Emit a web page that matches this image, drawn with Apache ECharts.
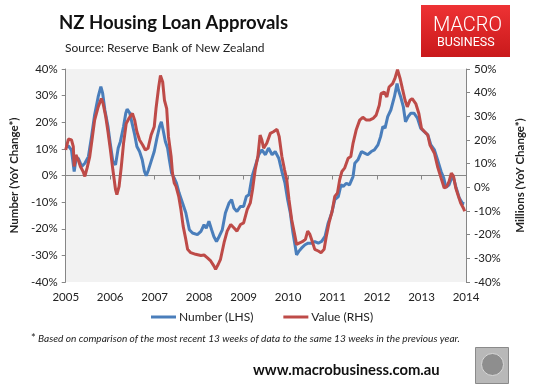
<!DOCTYPE html>
<html>
<head>
<meta charset="utf-8">
<script src="https://cdn.jsdelivr.net/npm/echarts@6/dist/echarts.min.js"></script>
<style>
html,body{margin:0;padding:0;background:#fff;}
#chart{width:540px;height:389px;}
</style>
</head>
<body>
<div id="chart"></div>
<script>
// X axis ticks (years)
var yearTicks = [2005, 2006, 2007, 2008, 2009, 2010, 2011, 2012, 2013, 2014];

// Number of loans, YoY % change (LHS)
var numberYears = [2005.00,2005.06,2005.13,2005.19,2005.23,2005.28,2005.36,2005.43,2005.51,2005.58,2005.65,2005.73,2005.79,2005.83,2005.88,2005.95,2006.00,2006.06,2006.12,2006.18,2006.23,2006.27,2006.30,2006.35,2006.38,2006.44,2006.50,2006.55,2006.60,2006.66,2006.72,2006.77,2006.81,2006.86,2006.92,2006.99,2007.05,2007.11,2007.15,2007.19,2007.24,2007.29,2007.33,2007.38,2007.44,2007.49,2007.55,2007.63,2007.70,2007.78,2007.85,2007.96,2008.04,2008.11,2008.16,2008.22,2008.28,2008.33,2008.39,2008.45,2008.52,2008.59,2008.67,2008.73,2008.78,2008.85,2008.93,2009.00,2009.06,2009.12,2009.19,2009.26,2009.34,2009.41,2009.49,2009.56,2009.64,2009.71,2009.79,2009.86,2009.93,2009.99,2010.05,2010.11,2010.16,2010.19,2010.24,2010.30,2010.38,2010.45,2010.53,2010.60,2010.68,2010.75,2010.83,2010.90,2010.98,2011.05,2011.13,2011.19,2011.24,2011.31,2011.38,2011.46,2011.50,2011.57,2011.65,2011.72,2011.79,2011.87,2011.94,2012.02,2012.08,2012.13,2012.18,2012.24,2012.31,2012.39,2012.45,2012.48,2012.53,2012.59,2012.64,2012.70,2012.76,2012.83,2012.91,2012.98,2013.06,2013.14,2013.21,2013.29,2013.36,2013.44,2013.50,2013.55,2013.62,2013.70,2013.77,2013.85,2013.92,2013.96];
var numberValues = [10.6,11.1,9.5,1.5,5.9,6.5,3.4,4.6,7.1,14.6,22.8,29.6,33.4,30.9,24.6,18.4,12.1,5.3,4.0,10.3,12.8,13.4,18.4,23.4,24.9,23.4,19.0,15.3,10.9,9.0,5.9,1.5,-0.1,2.1,5.3,9.0,14.0,18.4,20.2,17.1,12.8,10.3,5.9,0.9,-1.0,-2.9,-6.6,-10.5,-14.0,-20.4,-21.6,-22.2,-21.0,-18.5,-19.8,-17.2,-20.4,-22.9,-24.8,-22.9,-20.4,-14.1,-10.4,-9.1,-12.2,-13.5,-11.6,-11.6,-7.9,-7.2,-0.4,3.4,7.8,9.6,7.8,10.3,7.8,9.0,6.5,1.5,-2.9,-9.1,-14.1,-21.6,-26.6,-29.8,-28.5,-27.3,-26.0,-25.4,-25.4,-24.8,-25.4,-24.8,-22.9,-17.9,-14.1,-9.1,-7.9,-3.5,-4.1,-2.9,-3.5,-0.4,4.6,5.9,9.0,8.4,7.8,9.0,9.6,11.5,14.6,18.4,17.8,22.1,24.6,29.6,34.5,32.1,29.6,25.9,20.2,22.1,23.4,23.4,21.5,17.8,16.5,15.3,11.5,9.6,5.9,1.5,-1.0,-4.5,-3.5,0.2,-4.1,-8.5,-10.4,-10.6];

// Value of loans, YoY % change (RHS)
var valueYears = [2005.00,2005.06,2005.13,2005.17,2005.19,2005.23,2005.28,2005.33,2005.39,2005.43,2005.48,2005.54,2005.60,2005.65,2005.73,2005.80,2005.84,2005.90,2005.95,2006.00,2006.06,2006.12,2006.15,2006.20,2006.25,2006.30,2006.36,2006.42,2006.50,2006.55,2006.60,2006.66,2006.73,2006.79,2006.85,2006.92,2006.99,2007.03,2007.09,2007.13,2007.18,2007.22,2007.27,2007.31,2007.37,2007.40,2007.44,2007.48,2007.54,2007.59,2007.64,2007.70,2007.74,2007.81,2007.92,2008.04,2008.11,2008.18,2008.26,2008.33,2008.37,2008.43,2008.48,2008.56,2008.63,2008.71,2008.78,2008.85,2008.93,2009.00,2009.08,2009.15,2009.20,2009.26,2009.32,2009.37,2009.41,2009.45,2009.52,2009.60,2009.67,2009.75,2009.80,2009.86,2009.92,2009.97,2010.02,2010.08,2010.14,2010.19,2010.27,2010.34,2010.39,2010.44,2010.49,2010.54,2010.60,2010.68,2010.74,2010.81,2010.86,2010.92,2010.99,2011.05,2011.11,2011.16,2011.21,2011.27,2011.35,2011.41,2011.46,2011.53,2011.61,2011.68,2011.76,2011.83,2011.91,2011.98,2012.05,2012.09,2012.16,2012.22,2012.27,2012.35,2012.40,2012.46,2012.52,2012.57,2012.63,2012.68,2012.74,2012.79,2012.87,2012.94,2013.00,2013.07,2013.14,2013.19,2013.23,2013.29,2013.36,2013.44,2013.51,2013.57,2013.62,2013.67,2013.72,2013.77,2013.83,2013.88,2013.94,2013.97];
var valueValues = [15.8,20.4,20.0,17.2,8.8,13.7,11.6,8.8,6.7,4.6,8.1,13.0,21.4,28.4,34.0,37.5,35.4,29.8,23.5,16.5,7.4,-1.0,-3.1,0.4,8.8,18.6,27.0,29.1,31.2,28.4,23.5,20.0,17.9,15.8,16.5,22.1,25.6,33.3,42.4,47.3,44.5,36.8,33.3,21.4,13.0,6.0,1.8,0.4,-3.8,-9.4,-16.4,-22.0,-26.2,-27.6,-28.3,-28.8,-28.6,-29.7,-31.1,-33.2,-34.6,-32.5,-30.4,-23.4,-18.5,-15.7,-17.1,-18.5,-15.7,-15.0,-9.4,-6.6,-1.0,7.4,13.0,22.1,20.0,16.5,18.6,22.8,23.5,24.5,21.4,13.0,7.4,3.2,-5.2,-13.6,-19.2,-24.1,-23.4,-22.7,-22.0,-18.5,-19.9,-22.7,-26.2,-26.9,-27.6,-26.2,-20.6,-15.0,-10.1,-3.8,-2.4,3.2,6.7,8.1,12.3,13.0,18.6,24.2,28.4,29.6,28.4,28.4,29.1,30.5,34.7,39.6,40.3,38.2,42.4,43.8,45.9,49.7,45.9,41.7,36.8,34.0,36.8,37.5,35.4,31.2,24.9,23.5,22.1,17.9,18.6,14.4,8.8,3.9,-0.3,0.4,2.5,6.0,4.6,-0.3,-3.8,-6.6,-8.7,-10.1];

function pairs(xs, ys) { return xs.map(function (x, i) { return [x, ys[i]]; }); }

var FONT = 'Lato, "Open Sans", sans-serif';
var chart = echarts.init(document.getElementById('chart'));
chart.setOption({
  animation: false,
  backgroundColor: '#ffffff',
  textStyle: { fontFamily: FONT },
  title: [
    { text: 'NZ Housing Loan Approvals', left: 54, top: 9,
      textStyle: { fontSize: 18.5, fontWeight: 'bold', color: '#111', fontFamily: FONT } },
    { text: 'Source: Reserve Bank of New Zealand', left: 60, top: 37,
      textStyle: { fontSize: 12, fontWeight: 'normal', color: '#222', fontFamily: FONT } }
  ],
  grid: { left: 62, right: 74, top: 69, bottom: 107, containLabel: false,
          show: true, backgroundColor: '#f2f2f2', borderWidth: 0 },
  legend: {
    left: 146, top: 306, itemWidth: 25, itemHeight: 3, itemGap: 30,
    icon: 'rect',
    textStyle: { fontSize: 12, color: '#222', fontFamily: FONT, padding: [0, 0, 0, -2] },
    data: ['Number (LHS)', 'Value (RHS)']
  },
  xAxis: [
    { type: 'value', min: yearTicks[0], max: yearTicks[yearTicks.length - 1], interval: 1,
      axisLine: { onZero: true, onZeroAxisIndex: 0, lineStyle: { color: '#868686', width: 1 } },
      axisTick: { show: true, length: 4, lineStyle: { color: '#868686' } },
      axisLabel: { show: false }, splitLine: { show: false } },
    { type: 'value', position: 'bottom', min: yearTicks[0], max: yearTicks[yearTicks.length - 1], interval: 1,
      axisLine: { show: false, onZero: false }, axisTick: { show: false },
      axisLabel: { show: true, margin: 9, fontSize: 11.5, color: '#222', fontFamily: FONT,
                   formatter: function (v) { return String(Math.round(v)); } },
      splitLine: { show: false } }
  ],
  yAxis: [
    { type: 'value', position: 'left', min: -40, max: 40, interval: 10,
      name: 'Number (YoY Change*)', nameLocation: 'middle', nameRotate: 90, nameGap: 45,
      nameTextStyle: { fontSize: 11.5, fontWeight: 'bold', color: '#222', fontFamily: FONT },
      axisLine: { show: true, lineStyle: { color: '#868686' } },
      axisTick: { show: true, length: 4, lineStyle: { color: '#868686' } },
      axisLabel: { fontSize: 11.5, color: '#222', margin: 8, fontFamily: FONT, formatter: '{value}%' },
      splitLine: { show: false } },
    { type: 'value', position: 'right', min: -40, max: 50, interval: 10,
      name: 'Millions (YoY Change*)', nameLocation: 'middle', nameRotate: 90, nameGap: 48,
      nameTextStyle: { fontSize: 11.5, fontWeight: 'bold', color: '#222', fontFamily: FONT },
      axisLine: { show: true, lineStyle: { color: '#868686' } },
      axisTick: { show: true, length: 4, lineStyle: { color: '#868686' } },
      axisLabel: { fontSize: 11.5, color: '#222', margin: 8, fontFamily: FONT, formatter: '{value}%' },
      splitLine: { show: false } }
  ],
  series: [
    { name: 'Number (LHS)', type: 'line', xAxisIndex: 0, yAxisIndex: 0, showSymbol: false, symbol: 'none',
      data: pairs(numberYears, numberValues), color: '#4a7ebb',
      lineStyle: { width: 3, color: '#4a7ebb' }, z: 2 },
    { name: 'Value (RHS)', type: 'line', xAxisIndex: 0, yAxisIndex: 1, showSymbol: false, symbol: 'none',
      data: pairs(valueYears, valueValues), color: '#be4b48',
      lineStyle: { width: 3, color: '#be4b48' }, z: 3 }
  ],
  graphic: [
    { type: 'rect', left: 421, top: 5, shape: { width: 89, height: 52 },
      style: { fill: new echarts.graphic.LinearGradient(0, 0, 0, 1, [
        { offset: 0, color: '#ee3234' }, { offset: 1, color: '#c9191b' }]) } },
    { type: 'text', left: 433, top: 16, style: { text: 'MACRO', fill: '#ffffff',
      font: '300 20px Roboto, "DejaVu Sans", sans-serif' } },
    { type: 'text', left: 437, top: 36, style: { text: 'BUSINESS', fill: '#ffffff',
      font: '12.5px Roboto, "DejaVu Sans", sans-serif' } },
    { type: 'text', left: 31, top: 333, style: { text: '*', fill: '#222', font: '11px ' + FONT } },
    { type: 'text', left: 38, top: 334, style: {
      text: 'Based on comparison of the most recent 13 weeks of data to the same 13 weeks in the previous year.',
      fill: '#222', font: 'italic 10.1px ' + FONT } },
    { type: 'text', left: 253, top: 363, style: { text: 'www.macrobusiness.com.au', fill: '#111',
      font: 'bold 14.8px ' + FONT } },
    { type: 'rect', left: 475, top: 347, shape: { width: 33, height: 36 },
      style: { fill: '#b8b8b8', stroke: '#8a8a8a', lineWidth: 1 } },
    { type: 'circle', left: 481, top: 353, shape: { r: 11 },
      style: { fill: '#8e8e8e', stroke: '#d8d8d8', lineWidth: 1 } }
  ]
});
</script>
</body>
</html>
